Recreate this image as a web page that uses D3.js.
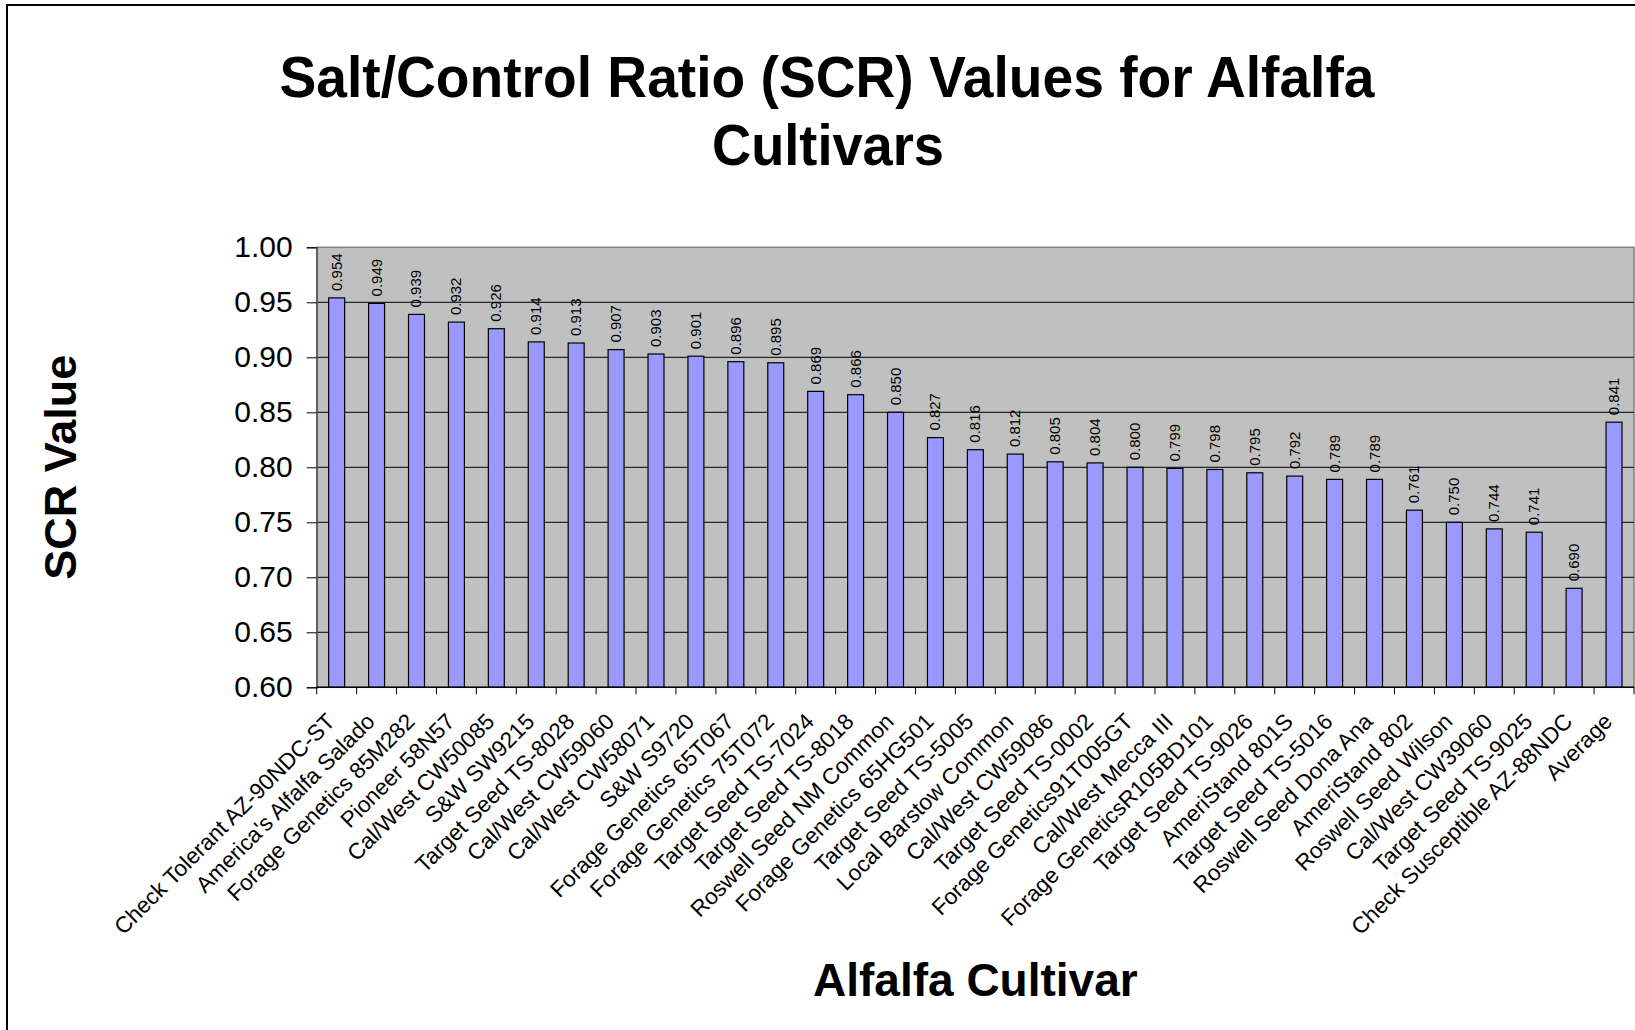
<!DOCTYPE html>
<html>
<head>
<meta charset="utf-8">
<script src="https://cdn.jsdelivr.net/npm/d3@7"></script>
<style>
	body { margin: 0; background: #fff; }
	text { font-family: "Liberation Sans", Arial, sans-serif; }
</style>
</head>
<body>
<script>
const cultivars = [
	'Check Tolerant AZ-90NDC-ST', "America's Alfalfa Salado", 'Forage Genetics 85M282', 'Pioneer 58N57',
	'Cal/West CW50085', 'S&W SW9215', 'Target Seed TS-8028', 'Cal/West CW59060', 'Cal/West CW58071',
	'S&W S9720', 'Forage Genetics 65T067', 'Forage Genetics 75T072', 'Target Seed TS-7024',
	'Target Seed TS-8018', 'Roswell Seed NM Common', 'Forage Genetics 65HG501', 'Target Seed TS-5005',
	'Local Barstow Common', 'Cal/West CW59086', 'Target Seed TS-0002', 'Forage Genetics91T005GT',
	'Cal/West Mecca III', 'Forage GeneticsR105BD101', 'Target Seed TS-9026', 'AmeriStand 801S',
	'Target Seed TS-5016', 'Roswell Seed Dona Ana', 'AmeriStand 802', 'Roswell Seed Wilson',
	'Cal/West CW39060', 'Target Seed TS-9025', 'Check Susceptible AZ-88NDC', 'Average'
];
const scrValues = [
	0.954, 0.949, 0.939, 0.932, 0.926, 0.914, 0.913, 0.907, 0.903, 0.901, 0.896, 0.895, 0.869,
	0.866, 0.850, 0.827, 0.816, 0.812, 0.805, 0.804, 0.800, 0.799, 0.798, 0.795, 0.792, 0.789,
	0.789, 0.761, 0.750, 0.744, 0.741, 0.690, 0.841
];
const yTicks = [0.60, 0.65, 0.70, 0.75, 0.80, 0.85, 0.90, 0.95, 1.00];
const titleLines = ['Salt/Control Ratio (SCR) Values for Alfalfa', 'Cultivars'];

const width = 1635, height = 1030,
	plot = {left: 316.7, right: 1634, top: 247.3, bottom: 687.3};

const data = cultivars.map((name, i) => ({name, value: scrValues[i]}));

const svg = d3.select('body').append('svg')
	.attr('width', width)
	.attr('height', height);

// outer chart border (runs off the picture on right and bottom)
svg.append('rect')
	.attr('x', 7).attr('y', 5)
	.attr('width', width + 10).attr('height', height + 10)
	.attr('fill', '#fff').attr('stroke', '#000').attr('stroke-width', 2);

const x = d3.scaleBand()
	.domain(cultivars)
	.range([plot.left, plot.right])
	.paddingInner(0.6)
	.paddingOuter(0.3);

const xCat = d3.scaleBand()
	.domain(cultivars)
	.range([plot.left, plot.right]);

const y = d3.scaleLinear()
	.domain([yTicks[0], yTicks[yTicks.length - 1]])
	.range([plot.bottom, plot.top]);

svg.append('rect')
	.attr('x', plot.left).attr('y', plot.top)
	.attr('width', plot.right - plot.left).attr('height', plot.bottom - plot.top)
	.attr('fill', '#c0c0c0').attr('stroke', '#808080').attr('stroke-width', 1.5);

// gridlines
svg.append('g')
	.selectAll('line')
	.data(yTicks.slice(1, -1))
	.enter()
	.append('line')
	.attr('x1', plot.left).attr('x2', plot.right)
	.attr('y1', d => y(d)).attr('y2', d => y(d))
	.attr('stroke', '#000').attr('stroke-width', 1);

// y axis
const yAxis = svg.append('g')
	.attr('transform', `translate(${plot.left},0)`)
	.call(d3.axisLeft(y).tickValues(yTicks).tickFormat(d3.format('.2f')).tickSize(10).tickPadding(14));
yAxis.select('.domain').attr('stroke', '#555').attr('stroke-width', 1.5);
yAxis.selectAll('.tick line').attr('stroke', '#000');
yAxis.selectAll('.tick text')
	.attr('font-size', 30)
	.attr('font-family', '"Liberation Sans", Arial, sans-serif')
	.attr('fill', '#000');

// bars
svg.append('g')
	.selectAll('rect')
	.data(data)
	.enter()
	.append('rect')
	.attr('x', d => x(d.name))
	.attr('y', d => y(d.value))
	.attr('width', x.bandwidth())
	.attr('height', d => y(yTicks[0]) - y(d.value))
	.attr('fill', '#9999ff')
	.attr('stroke', '#000')
	.attr('stroke-width', 1.2);

// value labels
svg.append('g')
	.selectAll('text')
	.data(data)
	.enter()
	.append('text')
	.attr('transform', d => `translate(${x(d.name) + x.bandwidth() / 2 + 5},${y(d.value) - 7}) rotate(-90)`)
	.attr('font-size', 15)
	.text(d => d3.format('.3f')(d.value));

// x axis line and ticks between categories
svg.append('line')
	.attr('x1', plot.left).attr('x2', plot.right)
	.attr('y1', plot.bottom).attr('y2', plot.bottom)
	.attr('stroke', '#000').attr('stroke-width', 1.5);

svg.append('g')
	.selectAll('line')
	.data(cultivars.map(c => xCat(c)).concat([plot.right]))
	.enter()
	.append('line')
	.attr('x1', d => d).attr('x2', d => d)
	.attr('y1', plot.bottom).attr('y2', plot.bottom + 7)
	.attr('stroke', '#000');

// category labels
svg.append('g')
	.selectAll('text')
	.data(cultivars)
	.enter()
	.append('text')
	.attr('transform', d => `translate(${xCat(d) + xCat.bandwidth() / 2 - 6},${plot.bottom + 30}) rotate(-45)`)
	.attr('text-anchor', 'end')
	.attr('dy', '0.35em')
	.attr('font-size', 22.5)
	.text(d => d);

// title
const title = svg.append('g')
	.attr('font-weight', 'bold')
	.attr('text-anchor', 'middle');
title.append('text')
	.attr('x', 827).attr('y', 97)
	.attr('font-size', 58)
	.attr('textLength', 1095).attr('lengthAdjust', 'spacingAndGlyphs')
	.text(titleLines[0]);
title.append('text')
	.attr('x', 828).attr('y', 165)
	.attr('font-size', 58)
	.attr('textLength', 232).attr('lengthAdjust', 'spacingAndGlyphs')
	.text(titleLines[1]);

// axis titles
svg.append('text')
	.attr('transform', `translate(76,${(plot.top + plot.bottom) / 2}) rotate(-90)`)
	.attr('text-anchor', 'middle')
	.attr('font-weight', 'bold')
	.attr('font-size', 45)
	.text('SCR Value');

svg.append('text')
	.attr('x', (plot.left + plot.right) / 2)
	.attr('y', 996)
	.attr('text-anchor', 'middle')
	.attr('font-weight', 'bold')
	.attr('font-size', 46)
	.text('Alfalfa Cultivar');
</script>
</body>
</html>
